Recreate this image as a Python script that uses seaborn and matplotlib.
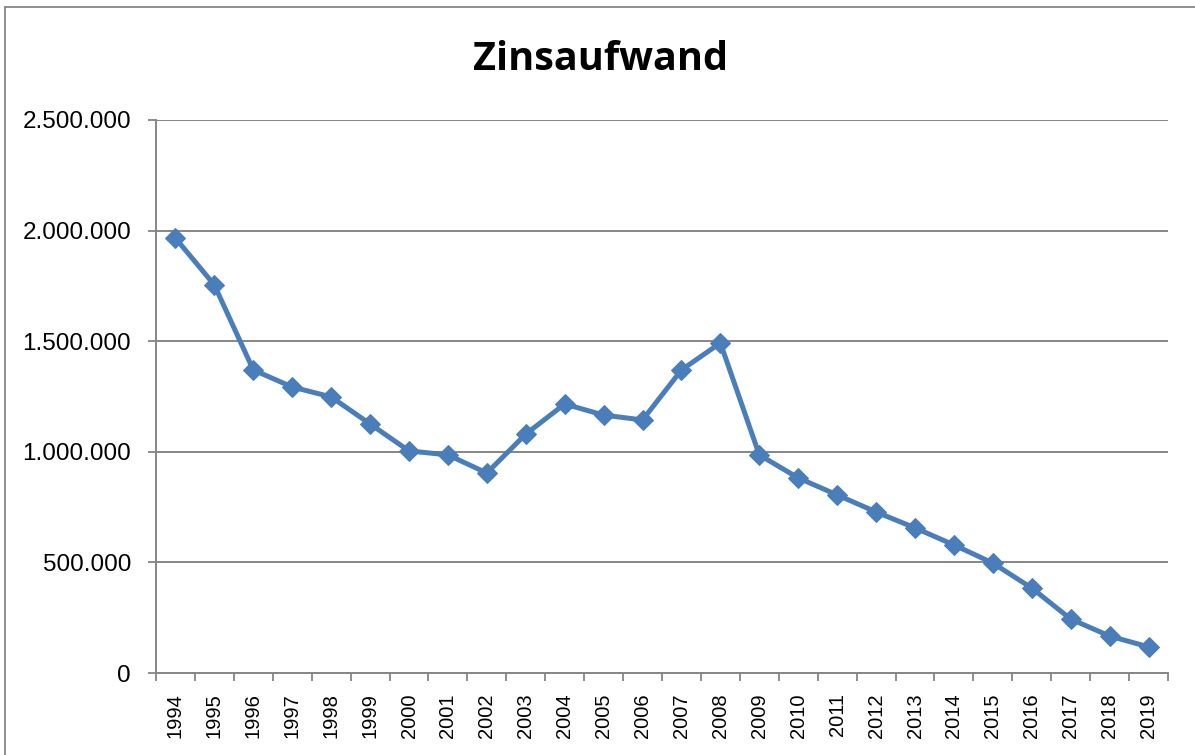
import numpy as np
import pandas as pd
import seaborn as sns
import matplotlib.pyplot as plt
from matplotlib.lines import Line2D
from matplotlib.ticker import FuncFormatter, FixedLocator

years = [str(y) for y in range(1994, 2020)]
zinsaufwand = [1966000, 1754000, 1370000, 1293000, 1248000, 1126000, 1004000,
               986000, 904000, 1080000, 1216000, 1166000, 1144000, 1370000,
               1492000, 986000, 882000, 805000, 728000, 656000, 579000,
               497000, 384000, 244000, 167000, 118000]
y_ticks = [0, 500000, 1000000, 1500000, 2000000, 2500000]

df = pd.DataFrame({"Jahr": years, "Zinsaufwand": zinsaufwand})

sns.set_theme(style="white")
plt.rcParams["font.family"] = ["Liberation Sans", "DejaVu Sans"]
plt.rcParams["text.color"] = "black"
plt.rcParams["xtick.labelcolor"] = "black"
plt.rcParams["ytick.labelcolor"] = "black"

W, H = 1195, 755
fig = plt.figure(figsize=(W / 100, H / 100), dpi=100)
ax = fig.add_axes([156 / W, 1 - 673 / H, (1168 - 156) / W, (673 - 120) / H])

grey = "#868686"
blue = "#4A7EBB"

sns.lineplot(data=df, x="Jahr", y="Zinsaufwand", ax=ax, color=blue,
             linewidth=3.6, marker="D", markersize=10.5,
             markeredgecolor=blue, markerfacecolor=blue, sort=False)

ax.set_xlim(-0.5, len(years) - 0.5)
ax.set_ylim(0, 2500000)
ax.set_xlabel("")
ax.set_ylabel("")

# horizontal gridlines
ax.set_yticks(y_ticks)
ax.yaxis.set_major_formatter(FuncFormatter(lambda v, p: f"{int(v):,}".replace(",", ".")))
ax.grid(axis="y", color=grey, linewidth=1.4)
ax.grid(axis="x", visible=False)
ax.set_axisbelow(True)

# category labels centred, tick marks on category boundaries
ax.set_xticks(range(len(years)))
ax.set_xticklabels(years, rotation=90)
ax.xaxis.set_minor_locator(FixedLocator(np.arange(-0.5, len(years), 1.0)))
ax.tick_params(axis="x", which="major", length=0, pad=14.5, labelsize=14.5,
               labelcolor="black")
ax.tick_params(axis="x", which="minor", length=6, width=1.3, color=grey, bottom=True)
ax.tick_params(axis="y", which="major", length=6, width=1.3, color=grey,
               labelsize=17.5, pad=12, left=True, labelcolor="black")

for side in ("top", "right"):
    ax.spines[side].set_visible(False)
for side in ("left", "bottom"):
    ax.spines[side].set_color(grey)
    ax.spines[side].set_linewidth(1.4)

fig.text(601 / W, 1 - 60 / H, "Zinsaufwand", ha="center", va="center",
         fontsize=28.5, fontweight="bold", color="black",
         family=["Open Sans", "DejaVu Sans"])

# chart area border
fig.add_artist(Line2D([5 / W, 5 / W], [0, 1 - 7 / H], color=grey, linewidth=1.3))
fig.add_artist(Line2D([5 / W, 1], [1 - 7 / H, 1 - 7 / H], color=grey, linewidth=1.3))

fig.savefig("out.png", dpi=100, facecolor="white")
